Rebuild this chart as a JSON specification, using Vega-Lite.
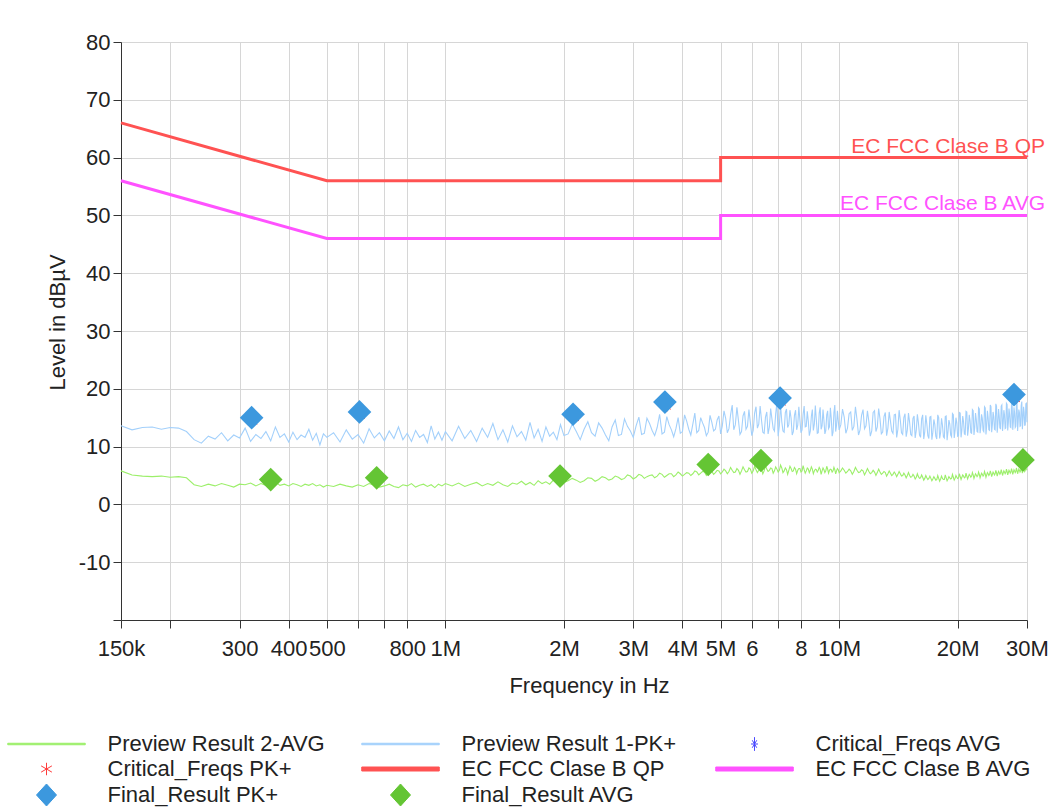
{
  "$schema": "https://vega.github.io/schema/vega-lite/v6.json",
  "autosize": {"type": "none"},
  "padding": {"left": 121, "top": 42, "right": 37, "bottom": 187},
  "width": 906,
  "height": 578,
  "background": "white",
  "datasets": {
    "trace": [
      {"f":0.15,"p":13.6,"a":5.8},{"f":0.16,"p":12.9,"a":5.1},{"f":0.17,"p":13.3,"a":4.9},{"f":0.18,"p":13.4,"a":4.8},{"f":0.19,"p":13.0,"a":4.9},
      {"f":0.20,"p":13.3,"a":4.7},{"f":0.21,"p":13.2,"a":4.8},{"f":0.22,"p":12.6,"a":4.6},{"f":0.23,"p":11.2,"a":3.4},{"f":0.24,"p":10.6,"a":3.1},
      {"f":0.25,"p":11.8,"a":3.5},{"f":0.26,"p":11.3,"a":3.2},{"f":0.27,"p":12.4,"a":3.6},{"f":0.28,"p":11.0,"a":3.3},{"f":0.29,"p":12.0,"a":3.0},
      {"f":0.30,"p":11.5,"a":3.5},{"f":0.31,"p":13.2,"a":3.4},{"f":0.32,"p":10.9,"a":3.7},{"f":0.33,"p":12.1,"a":3.2},{"f":0.34,"p":11.4,"a":3.6},
      {"f":0.35,"p":12.6,"a":3.3},{"f":0.36,"p":11.0,"a":3.4},{"f":0.37,"p":13.4,"a":3.9},{"f":0.38,"p":11.6,"a":3.3},{"f":0.39,"p":12.2,"a":3.5},
      {"f":0.40,"p":10.8,"a":3.2},{"f":0.41,"p":12.5,"a":3.6},{"f":0.42,"p":11.2,"a":3.4},{"f":0.43,"p":12.0,"a":3.1},{"f":0.44,"p":11.6,"a":3.5},
      {"f":0.45,"p":13.0,"a":3.3},{"f":0.46,"p":11.1,"a":3.6},{"f":0.47,"p":12.3,"a":3.2},{"f":0.48,"p":10.3,"a":3.4},{"f":0.49,"p":12.2,"a":3.0},
      {"f":0.50,"p":11.6,"a":3.3},
      {"f":0.52,"p":12.4,"a":3.1},{"f":0.54,"p":10.8,"a":3.5},{"f":0.56,"p":12.9,"a":3.2},{"f":0.58,"p":11.3,"a":3.0},{"f":0.60,"p":12.1,"a":3.4},
      {"f":0.62,"p":10.6,"a":3.1},{"f":0.64,"p":13.1,"a":3.6},{"f":0.66,"p":11.5,"a":3.3},{"f":0.68,"p":12.4,"a":3.0},{"f":0.70,"p":11.0,"a":3.2},
      {"f":0.72,"p":12.7,"a":3.5},{"f":0.74,"p":11.4,"a":3.1},{"f":0.76,"p":13.4,"a":2.9},{"f":0.78,"p":11.2,"a":3.4},{"f":0.80,"p":12.3,"a":3.2},
      {"f":0.82,"p":10.9,"a":3.6},{"f":0.84,"p":12.8,"a":3.0},{"f":0.86,"p":11.6,"a":3.3},{"f":0.88,"p":12.1,"a":3.5},{"f":0.90,"p":10.7,"a":3.1},
      {"f":0.92,"p":13.6,"a":3.4},{"f":0.94,"p":11.3,"a":2.9},{"f":0.96,"p":12.5,"a":3.5},{"f":0.98,"p":11.1,"a":3.2},{"f":1.00,"p":12.6,"a":3.6},
      {"f":1.04,"p":11.0,"a":3.2},{"f":1.08,"p":13.5,"a":3.7},{"f":1.12,"p":11.4,"a":3.1},{"f":1.16,"p":12.8,"a":3.5},{"f":1.20,"p":10.9,"a":3.8},
      {"f":1.24,"p":13.2,"a":3.2},{"f":1.28,"p":11.6,"a":3.6},{"f":1.32,"p":14.0,"a":3.3},{"f":1.36,"p":11.2,"a":3.9},{"f":1.40,"p":12.9,"a":3.4},
      {"f":1.44,"p":10.8,"a":3.1},{"f":1.48,"p":13.6,"a":3.7},{"f":1.52,"p":11.7,"a":3.5},{"f":1.56,"p":12.6,"a":4.0},{"f":1.60,"p":11.1,"a":3.4},
      {"f":1.64,"p":14.2,"a":3.8},{"f":1.68,"p":11.5,"a":3.3},{"f":1.72,"p":13.0,"a":4.1},{"f":1.76,"p":10.9,"a":3.6},{"f":1.80,"p":13.4,"a":3.9},
      {"f":1.84,"p":11.8,"a":3.5},{"f":1.88,"p":12.5,"a":4.2},{"f":1.92,"p":11.2,"a":3.7},{"f":1.96,"p":13.8,"a":4.0},{"f":2.00,"p":11.9,"a":3.8},
      {"f":2.1,"p":13.9,"a":4.5},{"f":2.2,"p":11.2,"a":3.8},{"f":2.3,"p":14.3,"a":4.6},{"f":2.4,"p":11.8,"a":4.0},{"f":2.5,"p":13.2,"a":4.8},
      {"f":2.6,"p":11.0,"a":4.2},{"f":2.7,"p":14.6,"a":4.9},{"f":2.8,"p":12.1,"a":4.3},{"f":2.9,"p":13.5,"a":5.1},{"f":3.0,"p":11.6,"a":4.4},
      {"f":3.1,"p":15.1,"a":5.2},{"f":3.2,"p":12.3,"a":4.5},{"f":3.3,"p":14.0,"a":5.0},{"f":3.4,"p":11.9,"a":4.6},{"f":3.5,"p":15.6,"a":5.4},
      {"f":3.6,"p":12.5,"a":4.7},{"f":3.7,"p":13.8,"a":5.3},{"f":3.8,"p":11.7,"a":4.8},{"f":3.9,"p":15.0,"a":5.6},{"f":4.0,"p":12.6,"a":4.9},
      {"f":4.1,"p":14.4,"a":5.5},{"f":4.2,"p":12.0,"a":5.0},{"f":4.3,"p":15.8,"a":5.8},{"f":4.4,"p":12.8,"a":5.1},{"f":4.5,"p":14.1,"a":5.7},
      {"f":4.6,"p":11.9,"a":5.0},{"f":4.7,"p":15.4,"a":6.0},{"f":4.8,"p":12.7,"a":5.2},{"f":4.9,"p":14.6,"a":5.9},{"f":5.0,"p":12.2,"a":5.3},
      {"f":5.1,"p":16.2,"a":6.1},{"f":5.2,"p":12.4,"a":5.3},{"f":5.3,"p":15.5,"a":6.4},{"f":5.4,"p":12.9,"a":5.5},{"f":5.5,"p":16.8,"a":6.2},
      {"f":5.6,"p":12.1,"a":5.2},{"f":5.7,"p":15.3,"a":6.5},{"f":5.8,"p":13.0,"a":5.6},{"f":5.9,"p":16.4,"a":6.3},{"f":6.0,"p":11.9,"a":5.4},
      {"f":6.1,"p":15.8,"a":6.6},{"f":6.2,"p":13.2,"a":5.5},{"f":6.3,"p":17.0,"a":6.2},{"f":6.4,"p":12.5,"a":5.3},{"f":6.5,"p":15.1,"a":6.7},
      {"f":6.6,"p":12.2,"a":5.7},{"f":6.7,"p":16.6,"a":6.3},{"f":6.8,"p":13.1,"a":5.4},{"f":6.9,"p":15.7,"a":6.5},{"f":7.0,"p":11.8,"a":5.6},
      {"f":7.1,"p":17.3,"a":6.8},{"f":7.2,"p":12.7,"a":5.5},{"f":7.3,"p":15.9,"a":6.3},{"f":7.4,"p":13.3,"a":5.2},{"f":7.5,"p":16.3,"a":6.6},
      {"f":7.6,"p":12.0,"a":5.7},{"f":7.7,"p":15.4,"a":6.4},{"f":7.8,"p":12.9,"a":5.3},{"f":7.9,"p":16.9,"a":6.2},{"f":8.0,"p":12.4,"a":5.6},
      {"f":8.1,"p":15.6,"a":6.7},{"f":8.2,"p":13.4,"a":5.4},{"f":8.3,"p":16.1,"a":6.3},{"f":8.4,"p":11.9,"a":5.5},{"f":8.5,"p":15.2,"a":6.5},
      {"f":8.6,"p":12.8,"a":5.3},{"f":8.7,"p":17.1,"a":6.1},{"f":8.8,"p":12.3,"a":5.6},{"f":8.9,"p":15.8,"a":6.4},{"f":9.0,"p":13.0,"a":5.2},
      {"f":9.1,"p":16.4,"a":6.3},{"f":9.2,"p":12.2,"a":5.5},{"f":9.3,"p":15.5,"a":6.6},{"f":9.4,"p":13.1,"a":5.4},{"f":9.5,"p":16.7,"a":6.1},
      {"f":9.6,"p":11.8,"a":5.6},{"f":9.7,"p":15.9,"a":6.4},{"f":9.8,"p":12.6,"a":5.3},{"f":9.9,"p":16.2,"a":6.2},{"f":10.0,"p":12.9,"a":5.5},
      {"f":10.2,"p":16.5,"a":6.3},{"f":10.4,"p":12.3,"a":5.4},{"f":10.6,"p":15.7,"a":6.1},{"f":10.8,"p":12.8,"a":5.2},{"f":11.0,"p":16.9,"a":6.4},
      {"f":11.2,"p":12.0,"a":5.5},{"f":11.4,"p":15.4,"a":6.0},{"f":11.6,"p":13.1,"a":5.1},{"f":11.8,"p":16.2,"a":6.2},{"f":12.0,"p":11.8,"a":5.3},
      {"f":12.2,"p":15.9,"a":5.9},{"f":12.4,"p":12.6,"a":5.0},{"f":12.6,"p":16.6,"a":6.1},{"f":12.8,"p":12.2,"a":5.2},{"f":13.0,"p":15.2,"a":5.7},
      {"f":13.2,"p":11.9,"a":4.9},{"f":13.4,"p":16.0,"a":5.8},{"f":13.6,"p":12.7,"a":5.0},{"f":13.8,"p":15.5,"a":5.6},{"f":14.0,"p":11.6,"a":4.8},
      {"f":14.2,"p":16.3,"a":5.7},{"f":14.4,"p":12.4,"a":4.9},{"f":14.6,"p":15.0,"a":5.4},{"f":14.8,"p":11.7,"a":4.6},{"f":15.0,"p":15.8,"a":5.5},
      {"f":15.2,"p":12.1,"a":4.7},{"f":15.4,"p":14.9,"a":5.2},{"f":15.6,"p":11.5,"a":4.4},{"f":15.8,"p":15.6,"a":5.3},{"f":16.0,"p":12.0,"a":4.5},
      {"f":16.2,"p":14.8,"a":5.1},{"f":16.4,"p":11.3,"a":4.2},{"f":16.6,"p":15.4,"a":5.0},{"f":16.8,"p":11.9,"a":4.3},{"f":17.0,"p":15.1,"a":4.9},
      {"f":17.2,"p":11.2,"a":4.1},{"f":17.4,"p":14.7,"a":4.8},{"f":17.6,"p":11.8,"a":4.2},{"f":17.8,"p":15.5,"a":5.0},{"f":18.0,"p":11.4,"a":4.0},
      {"f":18.2,"p":14.9,"a":4.9},{"f":18.4,"p":11.7,"a":4.3},{"f":18.6,"p":15.2,"a":5.1},{"f":18.8,"p":11.1,"a":4.1},{"f":19.0,"p":14.6,"a":4.8},
      {"f":19.2,"p":12.0,"a":4.4},{"f":19.4,"p":15.7,"a":5.2},{"f":19.6,"p":11.5,"a":4.2},{"f":19.8,"p":15.0,"a":5.0},{"f":20.0,"p":11.8,"a":4.5},
      {"f":20.2,"p":15.9,"a":5.3},{"f":20.4,"p":11.6,"a":4.3},{"f":20.6,"p":15.3,"a":5.1},{"f":20.8,"p":12.2,"a":4.6},{"f":21.0,"p":16.1,"a":5.4},
      {"f":21.2,"p":11.9,"a":4.4},{"f":21.4,"p":15.5,"a":5.2},{"f":21.6,"p":12.4,"a":4.7},{"f":21.8,"p":16.4,"a":5.5},{"f":22.0,"p":12.0,"a":4.5},
      {"f":22.2,"p":15.8,"a":5.3},{"f":22.4,"p":12.6,"a":4.8},{"f":22.6,"p":16.7,"a":5.6},{"f":22.8,"p":12.3,"a":4.6},{"f":23.0,"p":15.6,"a":5.4},
      {"f":23.2,"p":12.8,"a":4.9},{"f":23.4,"p":16.9,"a":5.7},{"f":23.6,"p":12.1,"a":4.7},{"f":23.8,"p":16.2,"a":5.5},{"f":24.0,"p":12.9,"a":5.0},
      {"f":24.2,"p":17.2,"a":5.8},{"f":24.4,"p":12.5,"a":4.8},{"f":24.6,"p":16.0,"a":5.6},{"f":24.8,"p":13.0,"a":5.1},{"f":25.0,"p":17.4,"a":5.9},
      {"f":25.2,"p":12.4,"a":4.9},{"f":25.4,"p":16.5,"a":5.7},{"f":25.6,"p":13.2,"a":5.2},{"f":25.8,"p":17.0,"a":6.0},{"f":26.0,"p":12.7,"a":5.0},
      {"f":26.2,"p":16.3,"a":5.8},{"f":26.4,"p":13.1,"a":5.3},{"f":26.6,"p":17.5,"a":6.1},{"f":26.8,"p":12.8,"a":5.1},{"f":27.0,"p":16.6,"a":5.9},
      {"f":27.2,"p":13.4,"a":5.4},{"f":27.4,"p":17.3,"a":6.2},{"f":27.6,"p":12.9,"a":5.2},{"f":27.8,"p":16.8,"a":6.0},{"f":28.0,"p":13.3,"a":5.5},
      {"f":28.2,"p":17.6,"a":6.3},{"f":28.4,"p":12.7,"a":5.3},{"f":28.6,"p":16.4,"a":6.1},{"f":28.8,"p":13.5,"a":5.6},{"f":29.0,"p":17.1,"a":6.4},
      {"f":29.2,"p":13.0,"a":5.4},{"f":29.4,"p":16.9,"a":6.2},{"f":29.6,"p":13.6,"a":5.7},{"f":29.8,"p":17.4,"a":6.5},{"f":30.0,"p":14.2,"a":5.9},
      {"f":2.05,"p":12.2,"a":4.1},{"f":2.15,"p":12.6,"a":4.2},{"f":2.25,"p":13.0,"a":4.1},{"f":2.35,"p":12.4,"a":4.5},{"f":2.45,"p":14.1,"a":4.3},
      {"f":2.55,"p":12.0,"a":4.6},{"f":2.65,"p":13.4,"a":4.4},{"f":2.75,"p":11.9,"a":4.7},{"f":2.85,"p":14.8,"a":4.5},{"f":2.95,"p":12.7,"a":4.9},
      {"f":3.05,"p":13.6,"a":4.7},{"f":3.15,"p":12.1,"a":5.0},{"f":3.25,"p":14.9,"a":4.8},{"f":3.35,"p":12.8,"a":5.1},{"f":3.45,"p":13.3,"a":4.9},
      {"f":3.55,"p":12.2,"a":5.2},{"f":3.65,"p":15.2,"a":5.0},{"f":3.75,"p":12.9,"a":5.3},{"f":3.85,"p":13.1,"a":5.1},{"f":3.95,"p":12.3,"a":5.3},
      {"f":4.05,"p":15.5,"a":5.2},{"f":4.15,"p":13.0,"a":5.4},{"f":4.25,"p":13.9,"a":5.3},{"f":4.35,"p":12.4,"a":5.6},{"f":4.45,"p":15.0,"a":5.4},
      {"f":4.55,"p":13.3,"a":5.6},{"f":4.65,"p":12.5,"a":5.5},{"f":4.75,"p":14.2,"a":5.7},{"f":4.85,"p":13.0,"a":5.5},{"f":4.95,"p":15.3,"a":5.8},
      {"f":5.05,"p":13.6,"a":5.6},{"f":5.15,"p":14.9,"a":5.8},{"f":5.25,"p":13.1,"a":5.7},{"f":5.35,"p":17.2,"a":5.9},{"f":5.45,"p":13.8,"a":5.6},
      {"f":5.55,"p":14.5,"a":5.9},{"f":5.65,"p":12.6,"a":5.8},{"f":5.75,"p":16.1,"a":6.0},{"f":5.85,"p":13.5,"a":5.7},{"f":5.95,"p":14.2,"a":6.1},
      {"f":6.05,"p":12.8,"a":5.8},{"f":6.15,"p":16.9,"a":6.0},{"f":6.25,"p":13.9,"a":5.9},{"f":6.35,"p":14.6,"a":6.2},{"f":6.45,"p":12.3,"a":5.8},
      {"f":6.55,"p":16.0,"a":6.1},{"f":6.65,"p":13.4,"a":5.9},{"f":6.75,"p":14.8,"a":6.2},{"f":6.85,"p":12.7,"a":5.8},{"f":6.95,"p":17.6,"a":6.1},
      {"f":7.05,"p":13.6,"a":5.9},{"f":7.15,"p":14.3,"a":6.3},{"f":7.25,"p":12.5,"a":5.8},{"f":7.35,"p":16.5,"a":6.0},{"f":7.45,"p":13.8,"a":5.9},
      {"f":7.55,"p":14.9,"a":6.2},{"f":7.65,"p":12.6,"a":5.8},{"f":7.75,"p":16.3,"a":6.1},{"f":7.85,"p":13.7,"a":5.9},{"f":7.95,"p":14.6,"a":6.2},
      {"f":8.05,"p":12.9,"a":5.8},{"f":8.15,"p":17.0,"a":6.0},{"f":8.25,"p":13.5,"a":5.8},{"f":8.35,"p":14.4,"a":6.1},{"f":8.45,"p":12.7,"a":5.9},
      {"f":8.55,"p":16.4,"a":6.1},{"f":8.65,"p":13.9,"a":5.8},{"f":8.75,"p":14.7,"a":6.0},{"f":8.85,"p":12.4,"a":5.9},{"f":8.95,"p":16.8,"a":6.1},
      {"f":9.05,"p":13.6,"a":5.8},{"f":9.15,"p":14.5,"a":6.0},{"f":9.25,"p":12.8,"a":5.8},{"f":9.35,"p":16.2,"a":6.1},{"f":9.45,"p":13.4,"a":5.9},
      {"f":9.55,"p":14.9,"a":6.0},{"f":9.65,"p":12.5,"a":5.8},{"f":9.75,"p":17.2,"a":6.0},{"f":9.85,"p":13.7,"a":5.8},{"f":9.95,"p":14.4,"a":6.0},
      {"f":10.1,"p":13.8,"a":5.8},{"f":10.3,"p":15.1,"a":5.9},{"f":10.5,"p":13.2,"a":5.7},{"f":10.7,"p":16.0,"a":5.8},{"f":10.9,"p":13.5,"a":5.7},
      {"f":11.1,"p":14.7,"a":5.9},{"f":11.3,"p":12.9,"a":5.6},{"f":11.5,"p":16.4,"a":5.8},{"f":11.7,"p":13.6,"a":5.6},{"f":11.9,"p":14.3,"a":5.7},
      {"f":12.1,"p":12.7,"a":5.5},{"f":12.3,"p":16.2,"a":5.6},{"f":12.5,"p":13.4,"a":5.5},{"f":12.7,"p":14.8,"a":5.6},{"f":12.9,"p":12.5,"a":5.4},
      {"f":13.1,"p":15.9,"a":5.5},{"f":13.3,"p":13.2,"a":5.3},{"f":13.5,"p":14.4,"a":5.4},{"f":13.7,"p":12.3,"a":5.2},{"f":13.9,"p":15.6,"a":5.3},
      {"f":14.1,"p":13.0,"a":5.2},{"f":14.3,"p":14.6,"a":5.3},{"f":14.5,"p":12.1,"a":5.0},{"f":14.7,"p":15.7,"a":5.1},{"f":14.9,"p":12.9,"a":5.0},
      {"f":15.1,"p":14.2,"a":5.0},{"f":15.3,"p":11.9,"a":4.8},{"f":15.5,"p":15.3,"a":4.9},{"f":15.7,"p":12.8,"a":4.7},{"f":15.9,"p":14.1,"a":4.8},
      {"f":16.1,"p":11.6,"a":4.6},{"f":16.3,"p":15.5,"a":4.7},{"f":16.5,"p":12.6,"a":4.5},{"f":16.7,"p":13.9,"a":4.6},{"f":16.9,"p":11.4,"a":4.5},
      {"f":17.1,"p":15.2,"a":4.5},{"f":17.3,"p":12.5,"a":4.4},{"f":17.5,"p":13.8,"a":4.5},{"f":17.7,"p":11.3,"a":4.3},{"f":17.9,"p":15.0,"a":4.5},
      {"f":18.1,"p":12.4,"a":4.4},{"f":18.3,"p":13.7,"a":4.5},{"f":18.5,"p":11.5,"a":4.3},{"f":18.7,"p":15.3,"a":4.6},{"f":18.9,"p":12.6,"a":4.4},
      {"f":19.1,"p":13.9,"a":4.6},{"f":19.3,"p":11.7,"a":4.5},{"f":19.5,"p":15.5,"a":4.7},{"f":19.7,"p":12.8,"a":4.5},{"f":19.9,"p":14.1,"a":4.7},
      {"f":20.1,"p":11.9,"a":4.6},{"f":20.3,"p":15.8,"a":4.8},{"f":20.5,"p":12.9,"a":4.7},{"f":20.7,"p":14.3,"a":4.9},{"f":20.9,"p":12.1,"a":4.7},
      {"f":21.1,"p":16.0,"a":4.9},{"f":21.3,"p":13.1,"a":4.8},{"f":21.5,"p":14.5,"a":5.0},{"f":21.7,"p":12.3,"a":4.9},{"f":21.9,"p":16.2,"a":5.1},
      {"f":22.1,"p":13.3,"a":4.9},{"f":22.3,"p":14.7,"a":5.1},{"f":22.5,"p":12.5,"a":5.0},{"f":22.7,"p":16.5,"a":5.2},{"f":22.9,"p":13.4,"a":5.0},
      {"f":23.1,"p":14.9,"a":5.2},{"f":23.3,"p":12.6,"a":5.1},{"f":23.5,"p":16.7,"a":5.3},{"f":23.7,"p":13.6,"a":5.1},{"f":23.9,"p":15.0,"a":5.3},
      {"f":24.1,"p":12.8,"a":5.2},{"f":24.3,"p":16.9,"a":5.4},{"f":24.5,"p":13.8,"a":5.2},{"f":24.7,"p":15.2,"a":5.4},{"f":24.9,"p":12.9,"a":5.3},
      {"f":25.1,"p":17.0,"a":5.5},{"f":25.3,"p":13.9,"a":5.3},{"f":25.5,"p":15.3,"a":5.5},{"f":25.7,"p":13.1,"a":5.4},{"f":25.9,"p":17.2,"a":5.6},
      {"f":26.1,"p":14.0,"a":5.4},{"f":26.3,"p":15.5,"a":5.6},{"f":26.5,"p":13.2,"a":5.5},{"f":26.7,"p":17.3,"a":5.7},{"f":26.9,"p":14.2,"a":5.5},
      {"f":27.1,"p":15.6,"a":5.7},{"f":27.3,"p":13.3,"a":5.6},{"f":27.5,"p":17.5,"a":5.8},{"f":27.7,"p":14.3,"a":5.6},{"f":27.9,"p":15.8,"a":5.8},
      {"f":28.1,"p":13.5,"a":5.7},{"f":28.3,"p":17.6,"a":5.9},{"f":28.5,"p":14.5,"a":5.7},{"f":28.7,"p":15.9,"a":5.9},{"f":28.9,"p":13.6,"a":5.8},
      {"f":29.1,"p":17.8,"a":6.0},{"f":29.3,"p":14.6,"a":5.8},{"f":29.5,"p":16.0,"a":6.0},{"f":29.7,"p":13.8,"a":5.9},{"f":29.9,"p":17.5,"a":6.1}
    ],
    "limits": [
      {"f":0.15,"v":66,"s":"EC FCC Clase B QP"},{"f":0.5,"v":56,"s":"EC FCC Clase B QP"},{"f":5,"v":56,"s":"EC FCC Clase B QP"},{"f":5,"v":60,"s":"EC FCC Clase B QP"},{"f":30,"v":60,"s":"EC FCC Clase B QP"},
      {"f":0.15,"v":56,"s":"EC FCC Clase B AVG"},{"f":0.5,"v":46,"s":"EC FCC Clase B AVG"},{"f":5,"v":46,"s":"EC FCC Clase B AVG"},{"f":5,"v":50,"s":"EC FCC Clase B AVG"},{"f":30,"v":50,"s":"EC FCC Clase B AVG"}
    ],
    "labels": [
      {"f":30,"v":60,"s":"EC FCC Clase B QP"},
      {"f":30,"v":50,"s":"EC FCC Clase B AVG"}
    ],
    "crit": [
      {"f":0.326,"v":14.2},{"f":0.612,"v":15.2},{"f":2.14,"v":14.8},{"f":3.66,"v":16.8},{"f":7.17,"v":17.5},{"f":28.2,"v":18.1}
    ],
    "final": [
      {"f":0.322,"v":15.0,"s":"Final_Result PK+"},{"f":0.605,"v":16.0,"s":"Final_Result PK+"},{"f":2.11,"v":15.6,"s":"Final_Result PK+"},
      {"f":3.61,"v":17.7,"s":"Final_Result PK+"},{"f":7.08,"v":18.4,"s":"Final_Result PK+"},{"f":27.8,"v":19.0,"s":"Final_Result PK+"},
      {"f":0.36,"v":4.3,"s":"Final_Result AVG"},{"f":0.669,"v":4.6,"s":"Final_Result AVG"},{"f":1.955,"v":4.9,"s":"Final_Result AVG"},
      {"f":4.65,"v":6.9,"s":"Final_Result AVG"},{"f":6.33,"v":7.6,"s":"Final_Result AVG"},{"f":29.3,"v":7.7,"s":"Final_Result AVG"}
    ]
  },
  "encoding": {
    "x": {
      "field": "f",
      "type": "quantitative",
      "title": "Frequency in Hz",
      "scale": {"type": "log", "domain": [0.15, 30], "nice": false},
      "axis": {
        "values": [0.15, 0.2, 0.3, 0.4, 0.5, 0.6, 0.7, 0.8, 1, 2, 3, 4, 5, 6, 7, 8, 10, 20, 30],
        "labelExpr": "['150k','','300','400','500','','','800','1M','2M','3M','4M','5M','6','','8','10M','20M','30M'][indexof([0.15,0.2,0.3,0.4,0.5,0.6,0.7,0.8,1,2,3,4,5,6,7,8,10,20,30], datum.value)]",
        "labelOverlap": false,
        "labelFlush": false,
        "labelBound": false,
        "grid": true,
        "tickSize": 8,
        "labelPadding": 10,
        "titleX": 468,
        "titleY": 72,
        "titleAlign": "center",
        "titleBaseline": "alphabetic"
      }
    }
  },
  "layer": [
    {
      "data": {"name": "trace"},
      "mark": {"type": "line", "strokeWidth": 1.1, "interpolate": "linear"},
      "encoding": {
        "y": {
          "field": "a",
          "type": "quantitative",
          "title": "Level in dBµV",
          "scale": {"domain": [-20, 80], "nice": false},
          "axis": {
            "values": [-20, -15, -10, -5, 0, 5, 10, 15, 20, 25, 30, 35, 40, 45, 50, 55, 60, 65, 70, 75, 80],
            "labelExpr": "(datum.value % 10 === 0 && datum.value > -20) ? ('' + datum.value) : ''",
            "grid": true,
            "tickSize": 8,
            "labelPadding": 3,
            "titleX": -64,
            "titleY": 280,
            "titleAngle": -90,
            "titleAlign": "center",
            "titleBaseline": "middle"
          }
        },
        "color": {
          "datum": "Preview Result 2-AVG",
          "type": "nominal",
          "title": null,
          "scale": {
            "domain": ["Preview Result 2-AVG", "Preview Result 1-PK+", "Critical_Freqs AVG", "Critical_Freqs PK+", "EC FCC Clase B QP", "EC FCC Clase B AVG", "Final_Result PK+", "Final_Result AVG"],
            "range": ["#9cef6a", "#a3d0fb", "#4a4aff", "#ff3a3a", "#ff5252", "#ff52ff", "#3c98de", "#64c534"]
          },
          "legend": {
            "title": null,
            "orient": "none",
            "direction": "horizontal",
            "legendX": -113,
            "legendY": 688,
            "columns": 3,
            "gridAlign": "all",
            "padding": 0,
            "rowPadding": 0,
            "columnPadding": 34,
            "symbolSize": 625,
            "symbolStrokeWidth": 1,
            "symbolOffset": 25.5,
            "labelOffset": 48,
            "labelFont": "Liberation Sans",
            "labelFontSize": 22,
            "labelColor": "#222222",
            "labelLimit": 400,
            "labelBaseline": "middle",
            "encode": {
              "symbols": {
                "update": {
                  "shape": {"signal": "(datum.value === 'Final_Result PK+' || datum.value === 'Final_Result AVG') ? 'M0,-0.88L0.8,0L0,0.88L-0.8,0Z' : datum.value === 'Critical_Freqs PK+' ? 'M0,-0.5V0.5M-0.43,-0.25L0.43,0.25M-0.43,0.25L0.43,-0.25' : datum.value === 'Critical_Freqs AVG' ? 'M0,-0.55V0.55M-0.28,0H0.28M-0.18,-0.3L0.18,0.3M-0.18,0.3L0.18,-0.3' : (datum.value === 'EC FCC Clase B QP' || datum.value === 'EC FCC Clase B AVG') ? 'M-3.1,-0.16H3.1V0.16H-3.1Z' : 'M-3.1,-0.06H3.1V0.06H-3.1Z'"},
                  "fill": {"signal": "(datum.value === 'Critical_Freqs PK+' || datum.value === 'Critical_Freqs AVG') ? 'transparent' : scale('color', datum.value)"},
                  "stroke": {"signal": "(datum.value === 'Critical_Freqs PK+' || datum.value === 'Critical_Freqs AVG') ? scale('color', datum.value) : 'transparent'"},
                  "opacity": {"value": 1}
                }
              }
            }
          }
        }
      }
    },
    {
      "data": {"name": "trace"},
      "mark": {"type": "line", "strokeWidth": 1.1, "interpolate": "linear"},
      "encoding": {
        "y": {"field": "p", "type": "quantitative", "title": "Level in dBµV"},
        "color": {"datum": "Preview Result 1-PK+", "type": "nominal", "title": null}
      }
    },
    {
      "data": {"name": "crit"},
      "mark": {"type": "point", "filled": false, "opacity": 1, "strokeWidth": 1, "size": 64, "shape": "M0,-1V1M-0.87,-0.5L0.87,0.5M-0.87,0.5L0.87,-0.5"},
      "encoding": {
        "y": {"field": "v", "type": "quantitative", "title": "Level in dBµV"},
        "color": {"datum": "Critical_Freqs PK+", "type": "nominal", "title": null}
      }
    },
    {
      "data": {"name": "limits"},
      "mark": {"type": "line", "strokeWidth": 3},
      "encoding": {
        "y": {"field": "v", "type": "quantitative", "title": "Level in dBµV"},
        "color": {"field": "s", "type": "nominal", "title": null}
      }
    },
    {
      "data": {"name": "labels"},
      "mark": {"type": "text", "align": "right", "baseline": "alphabetic", "dx": 18, "dy": -5, "fontSize": 21, "font": "Liberation Sans"},
      "encoding": {
        "y": {"field": "v", "type": "quantitative", "title": "Level in dBµV"},
        "text": {"field": "s"},
        "color": {"field": "s", "type": "nominal", "title": null}
      }
    },
    {
      "data": {"name": "final"},
      "mark": {"type": "point", "shape": "diamond", "filled": true, "opacity": 1, "size": 560, "strokeWidth": 0},
      "encoding": {
        "y": {"field": "v", "type": "quantitative", "title": "Level in dBµV"},
        "color": {"field": "s", "type": "nominal", "title": null}
      }
    }
  ],
  "config": {
    "view": {"stroke": null},
    "font": "Liberation Sans",
    "axis": {
      "domainColor": "#333333",
      "tickColor": "#333333",
      "gridColor": "#d6d6d6",
      "gridWidth": 1,
      "labelFont": "Liberation Sans",
      "labelFontSize": 22,
      "labelColor": "#222222",
      "titleFont": "Liberation Sans",
      "titleFontSize": 22,
      "titleFontWeight": "normal",
      "titleColor": "#222222"
    }
  }
}
